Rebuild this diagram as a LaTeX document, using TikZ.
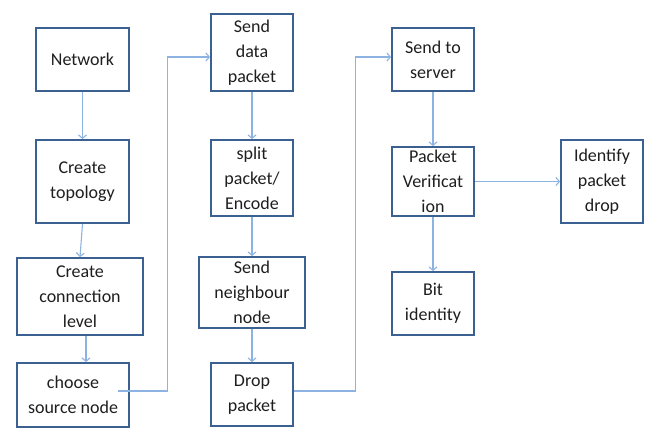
\documentclass[tikz,border=0pt]{standalone}
\usepackage{fontspec}
\setmainfont{Carlito}
\usetikzlibrary{arrows.meta}
\definecolor{boxc}{HTML}{3B6192}
\definecolor{linec}{HTML}{8DB3E2}
\definecolor{txt}{HTML}{1E1E1E}
\tikzset{
  stepbox/.style={draw=boxc, line width=1.8pt, rectangle, inner sep=0pt, align=center, text=txt,
    font=\fontsize{18}{25}\selectfont},
  conn/.style={draw=linec, line width=1.1pt, -{Straight Barb[length=3.5pt,width=8pt]}}
}
\begin{document}
\begin{tikzpicture}[x=1pt,y=-1pt]
\useasboundingbox (0,0) rectangle (649,428);
\node[stepbox, minimum width=93pt, minimum height=63pt] (net) at (82.5,59.5) {Network};
\node[stepbox, minimum width=93pt, minimum height=83pt] (topo) at (82.5,181.5) {Create\\topology};
\node[stepbox, minimum width=126pt, minimum height=77pt] (conn) at (80,296.5) {Create\\connection\\level};
\node[stepbox, minimum width=112pt, minimum height=64pt] (src) at (73,395) {choose\\source node};
\node[stepbox, minimum width=82pt, minimum height=77pt] (send) at (252,52.5) {Send\\data\\packet};
\node[stepbox, minimum width=82pt, minimum height=76pt] (split) at (252,178) {split\\packet/\\Encode};
\node[stepbox, minimum width=106pt, minimum height=71pt] (neigh) at (252,292.5) {Send\\neighbour\\node};
\node[stepbox, minimum width=82pt, minimum height=63pt] (drop) at (252,394.5) {Drop\\packet};
\node[stepbox, minimum width=82pt, minimum height=63pt] (server) at (433,59.5) {Send to\\server};
\node[stepbox, minimum width=82pt, minimum height=69pt] (verif) at (433,181.5) {Packet\\Verificat\\ion};
\node[stepbox, minimum width=82pt, minimum height=83pt] (ident) at (602,181.5) {Identify\\packet\\drop};
\node[stepbox, minimum width=82pt, minimum height=63pt] (bit) at (433,303.5) {Bit\\identity};

\draw[conn] (net) -- (topo);
\draw[conn] (topo.south) -- (conn.north);
\draw[conn] ([xshift=6pt]conn.south) -- ([xshift=6pt]conn.south |- src.north);
\draw[conn] ([shift={(-12pt,4pt)}]src.east) -- ++(50,0) |- ([yshift=-4.5pt]send.west);
\draw[conn] (send) -- (split);
\draw[conn] (split) -- (neigh);
\draw[conn] (neigh) -- (drop);
\draw[conn] ([yshift=3.5pt]drop.east) -- ++(62,0) |- ([yshift=2.5pt]server.west);
\draw[conn] (server) -- (verif);
\draw[conn] (verif) -- (ident);
\draw[conn] (verif) -- (bit);
\end{tikzpicture}
\end{document}
